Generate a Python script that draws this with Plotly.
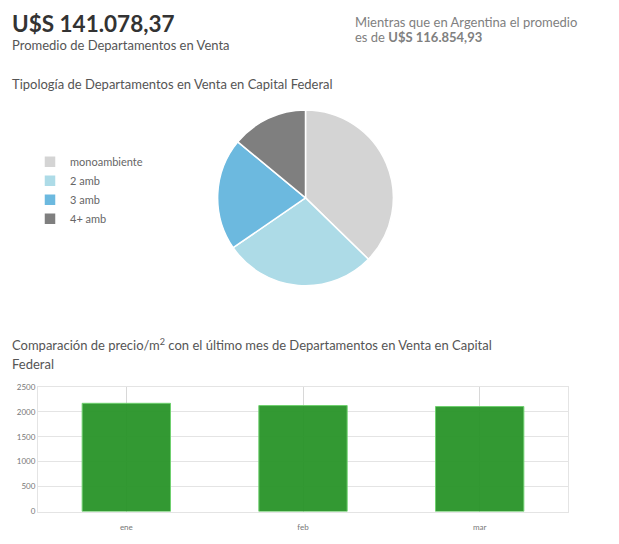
import plotly.graph_objects as go

# Data
tipos = ["monoambiente", "2 amb", "3 amb", "4+ amb"]
tipos_pct = [37.3, 28.1, 20.6, 14.0]
tipos_colores = ["#d4d4d4", "#addbe7", "#6cb9df", "#7f7f7f"]

meses = ["ene", "feb", "mar"]
precio_m2 = [2170, 2125, 2105]
y_ticks = [0, 500, 1000, 1500, 2000, 2500]

W, H = 619, 544

def px_x(v):
    return v / W

def px_y(v):
    return 1 - v / H

FONT = "Lato, 'Open Sans', sans-serif"

fig = go.Figure()

fig.add_trace(go.Pie(
    labels=tipos,
    values=tipos_pct,
    marker=dict(colors=tipos_colores, line=dict(color="white", width=1.5)),
    sort=False,
    direction="clockwise",
    rotation=0,
    textinfo="none",
    hoverinfo="label+percent",
    domain=dict(x=[px_x(216), px_x(395)], y=[px_y(286), px_y(107)]),
    showlegend=True,
))

fig.add_trace(go.Bar(
    x=meses,
    y=precio_m2,
    marker=dict(color="rgba(40,148,40,0.95)", line=dict(color="#6fd06f", width=1)),
    width=0.5,
    showlegend=False,
    xaxis="x",
    yaxis="y",
))

def ann(text, x, y, size, color):
    return dict(text=text, x=px_x(x), y=px_y(y), xref="paper", yref="paper",
                xanchor="left", yanchor="middle", showarrow=False,
                font=dict(size=size, color=color, family=FONT))

annotations = [
    ann("<b>U$S 141.078,37</b>", 10, 19, 22.5, "#333333"),
    ann("Promedio de Departamentos en Venta", 10, 41, 13, "#555555"),
    ann("Mientras que en Argentina el promedio", 353, 17, 13, "#808080"),
    ann("es de <b>U$S 116.854,93</b>", 353, 33, 13, "#808080"),
    ann("Tipología de Departamentos en Venta en Capital Federal", 10, 80, 13, "#555555"),
    ann("Comparación de precio/m<sup>2</sup> con el último mes de Departamentos en Venta en Capital", 10, 346, 13, "#555555"),
    ann("Federal", 10, 366, 13, "#555555"),
]

fig.update_layout(
    width=W, height=H,
    margin=dict(l=0, r=0, t=0, b=0),
    paper_bgcolor="white",
    plot_bgcolor="white",
    font=dict(family=FONT, color="#666666"),
    annotations=annotations,
    legend=dict(
        x=px_x(30), y=px_y(145), xanchor="left", yanchor="top",
        font=dict(size=11, color="#666666", family=FONT),
        bgcolor="rgba(0,0,0,0)",
        itemwidth=30,
    ),
    bargap=0.5,
    xaxis=dict(
        domain=[px_x(38), px_x(568)],
        anchor="y",
        showgrid=True, gridcolor="#d8d8d8", gridwidth=1,
        showline=True, linecolor="#e4e4e4", mirror=True,
        tickfont=dict(size=8, color="#777777"),
        ticklabelstandoff=8,
        ticks="", fixedrange=True,
    ),
    yaxis=dict(
        domain=[px_y(516), px_y(389)],
        anchor="x",
        range=[0, 2500],
        tickvals=y_ticks,
        showgrid=True, gridcolor="#e4e4e4", gridwidth=1,
        showline=True, linecolor="#e4e4e4", mirror=True,
        zeroline=False,
        tickfont=dict(size=8, color="#777777"),
        ticks="", fixedrange=True,
    ),
)

fig.write_html("out.html")
